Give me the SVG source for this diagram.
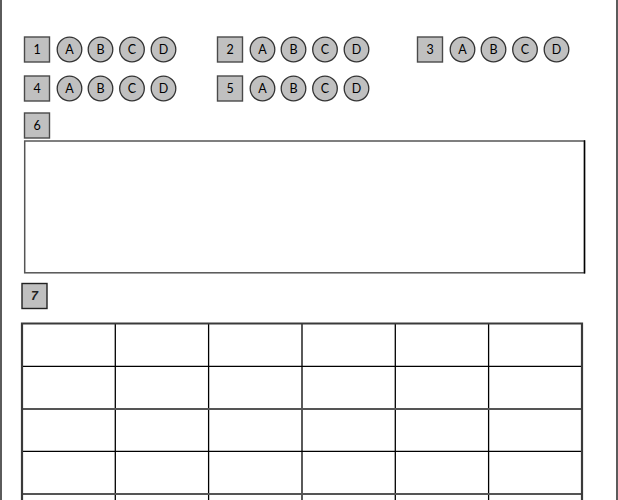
<svg xmlns="http://www.w3.org/2000/svg" width="618" height="500" viewBox="0 0 618 500">
<style>
.box{fill:#c0c0c0;stroke:#4a4a4a;stroke-width:1.4}
.opt{fill:#c0c0c0;stroke:#333;stroke-width:1.3}
.t{font-family:Lato,"Open Sans",sans-serif;font-size:12.5px;fill:#000;text-anchor:middle;dominant-baseline:central}
.t7{font-family:"Liberation Sans",Arial,sans-serif;font-size:12.5px;font-weight:bold;font-style:italic;fill:#222;text-anchor:middle;dominant-baseline:central}
.thin{stroke:#000;stroke-width:1.3;fill:none}
.thick{stroke:#555;stroke-width:2.2;fill:none}
</style>
<defs>
<g id="opts">
<circle class="opt" cx="45" cy="0" r="12.3"/><text class="t" x="45" y="0">A</text>
<circle class="opt" cx="76" cy="0" r="12.3"/><text class="t" x="76" y="0">B</text>
<circle class="opt" cx="107.5" cy="0" r="12.3"/><text class="t" x="107.5" y="0">C</text>
<circle class="opt" cx="139" cy="0" r="12.3"/><text class="t" x="139" y="0">D</text>
</g>
</defs>
<rect width="618" height="500" fill="#fff"/>
<g id="page-border">
<line x1="1" y1="0" x2="1" y2="500" stroke="#333" stroke-width="1.6"/>
<line x1="617" y1="0" x2="617" y2="500" stroke="#333" stroke-width="1.6"/>
</g>
<g id="q1" transform="translate(24.5,49.5)">
<rect class="box" x="0" y="-12.5" width="25" height="25"/><text class="t" x="12.5" y="0">1</text>
<use href="#opts"/>
</g>
<g id="q2" transform="translate(217.5,49.5)">
<rect class="box" x="0" y="-12.5" width="25" height="25"/><text class="t" x="12.5" y="0">2</text>
<use href="#opts"/>
</g>
<g id="q3" transform="translate(417.5,49.5)">
<rect class="box" x="0" y="-12.5" width="25" height="25"/><text class="t" x="12.5" y="0">3</text>
<use href="#opts"/>
</g>
<g id="q4" transform="translate(24.5,88.5)">
<rect class="box" x="0" y="-12.5" width="25" height="25"/><text class="t" x="12.5" y="0">4</text>
<use href="#opts"/>
</g>
<g id="q5" transform="translate(217.5,88.5)">
<rect class="box" x="0" y="-12.5" width="25" height="25"/><text class="t" x="12.5" y="0">5</text>
<use href="#opts"/>
</g>
<g id="q6">
<rect class="box" x="24.5" y="113" width="25" height="25"/><text class="t" x="37" y="125.5">6</text>
<rect x="24.7" y="141" width="559.8" height="131.8" fill="#fff" stroke="#555" stroke-width="1.5"/>
<line x1="584.5" y1="140.3" x2="584.5" y2="273.5" stroke="#000" stroke-width="1.4"/>
</g>
<g id="q7">
<rect class="box" x="22" y="283.5" width="25" height="25" style="stroke:#222"/><text class="t7" x="34.5" y="296">7</text>
</g>
<g id="table">
<line class="thin" x1="115.3" y1="323.5" x2="115.3" y2="500"/>
<line class="thin" x1="208.6" y1="323.5" x2="208.6" y2="500"/>
<line class="thin" x1="302" y1="323.5" x2="302" y2="500"/>
<line class="thin" x1="395.3" y1="323.5" x2="395.3" y2="500"/>
<line class="thin" x1="488.6" y1="323.5" x2="488.6" y2="500"/>
<line class="thin" x1="22" y1="366.3" x2="582" y2="366.3"/>
<line class="thin" x1="22" y1="451.3" x2="582" y2="451.3"/>
<line class="thick" x1="22" y1="409" x2="582" y2="409"/>
<line class="thick" x1="22" y1="494" x2="582" y2="494"/>
<path d="M22 502 V323.5 H582 V502" fill="none" stroke="#3a3a3a" stroke-width="2.2"/>
</g>
</svg>
